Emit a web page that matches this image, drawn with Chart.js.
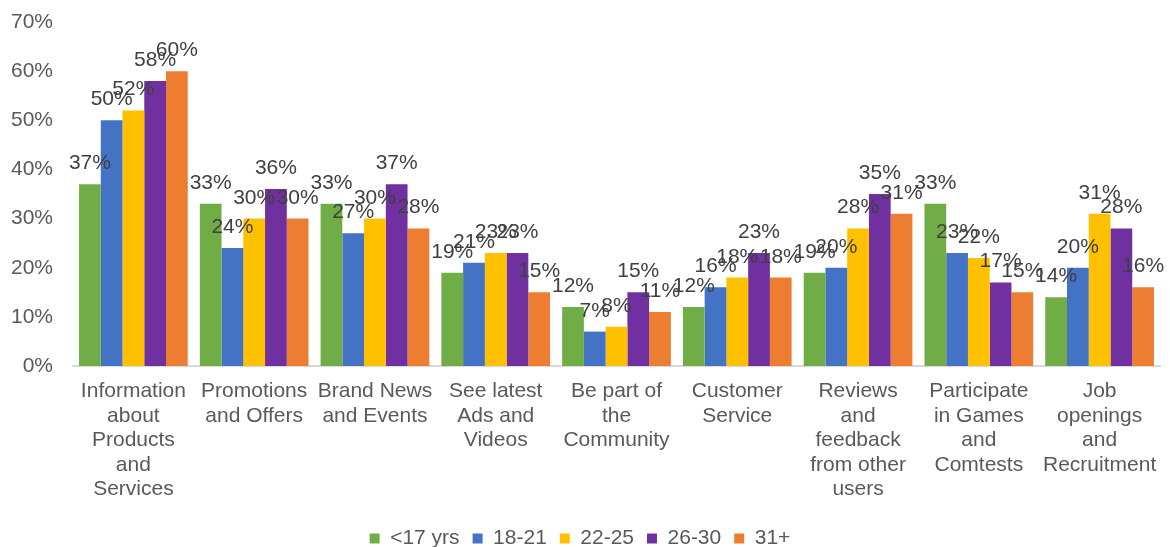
<!DOCTYPE html>
<html>
<head>
<meta charset="utf-8">
<script src="https://cdn.jsdelivr.net/npm/chart.js@4"></script>
<style>
  html, body { margin: 0; padding: 0; background: #fff; }
  #wrap { width: 1170px; height: 547px; }
</style>
</head>
<body>
<div id="wrap"><canvas id="chart"></canvas></div>
<script>
const categories = [
  ["Information", "about", "Products", "and", "Services"],
  ["Promotions", "and Offers"],
  ["Brand News", "and Events"],
  ["See latest", "Ads and", "Videos"],
  ["Be part of", "the", "Community"],
  ["Customer", "Service"],
  ["Reviews", "and", "feedback", "from other", "users"],
  ["Participate", "in Games", "and", "Comtests"],
  ["Job", "openings", "and", "Recruitment"]
];

const ageGroups = ["<17 yrs", "18-21", "22-25", "26-30", "31+"];

const under17 = [37, 33, 33, 19, 12, 12, 19, 33, 14];
const age18to21 = [50, 24, 27, 21, 7, 16, 20, 23, 20];
const age22to25 = [52, 30, 30, 23, 8, 18, 28, 22, 31];
const age26to30 = [58, 36, 37, 23, 15, 23, 35, 17, 28];
const over31 = [60, 30, 28, 15, 11, 18, 31, 15, 16];

const yTicks = [0, 10, 20, 30, 40, 50, 60, 70];

const colors = ["#70AD47", "#4472C4", "#FFC000", "#7030A0", "#ED7D31"];
const series = [under17, age18to21, age22to25, age26to30, over31];

const fontFamily = '"Liberation Sans", Arial, Helvetica, sans-serif';

// value labels above every bar
const barLabels = {
  id: "barLabels",
  afterDatasetsDraw(chart) {
    const ctx = chart.ctx;
    ctx.save();
    ctx.font = "21px " + fontFamily;
    ctx.fillStyle = "#404040";
    ctx.textAlign = "center";
    ctx.textBaseline = "alphabetic";
    chart.data.datasets.forEach((ds, i) => {
      chart.getDatasetMeta(i).data.forEach((bar, j) => {
        ctx.fillText(ds.data[j] + "%", bar.x, bar.y - 15);
      });
    });
    ctx.restore();
  }
};

new Chart(document.getElementById("chart"), {
  type: "bar",
  data: {
    labels: categories,
    datasets: series.map((values, i) => ({
      label: ageGroups[i],
      data: values,
      backgroundColor: colors[i],
      borderWidth: 0,
      categoryPercentage: 0.9,
      barPercentage: 1.0
    }))
  },
  options: {
    responsive: true,
    maintainAspectRatio: false,
    animation: false,
    layout: { padding: { top: 22, right: 10, left: 0, bottom: -12 } },
    plugins: {
      legend: {
        position: "bottom",
        labels: {
          boxWidth: 10,
          boxHeight: 10,
          padding: 13,
          color: "#595959",
          font: { size: 21, family: fontFamily }
        }
      },
      tooltip: { enabled: false }
    },
    scales: {
      x: {
        afterFit(scale) { scale.height = 149; },
        grid: { display: false, drawTicks: false },
        border: { color: "#D9D9D9", width: 2 },
        ticks: {
          color: "#595959",
          padding: 13,
          maxRotation: 0,
          autoSkip: false,
          font: { size: 21, family: fontFamily, lineHeight: 1.17 }
        }
      },
      y: {
        min: 0,
        max: 70,
        afterBuildTicks(scale) {
          scale.ticks = yTicks.map(v => ({ value: v }));
        },
        afterFit(scale) {
          scale.width = 73;
          scale.paddingTop = 0;
          scale.paddingBottom = 0;
        },
        grid: { display: false, drawTicks: false },
        border: { display: false },
        ticks: {
          color: "#595959",
          padding: 20,
          font: { size: 21, family: fontFamily },
          callback: v => v + "%"
        }
      }
    }
  },
  plugins: [barLabels]
});
</script>
</body>
</html>
